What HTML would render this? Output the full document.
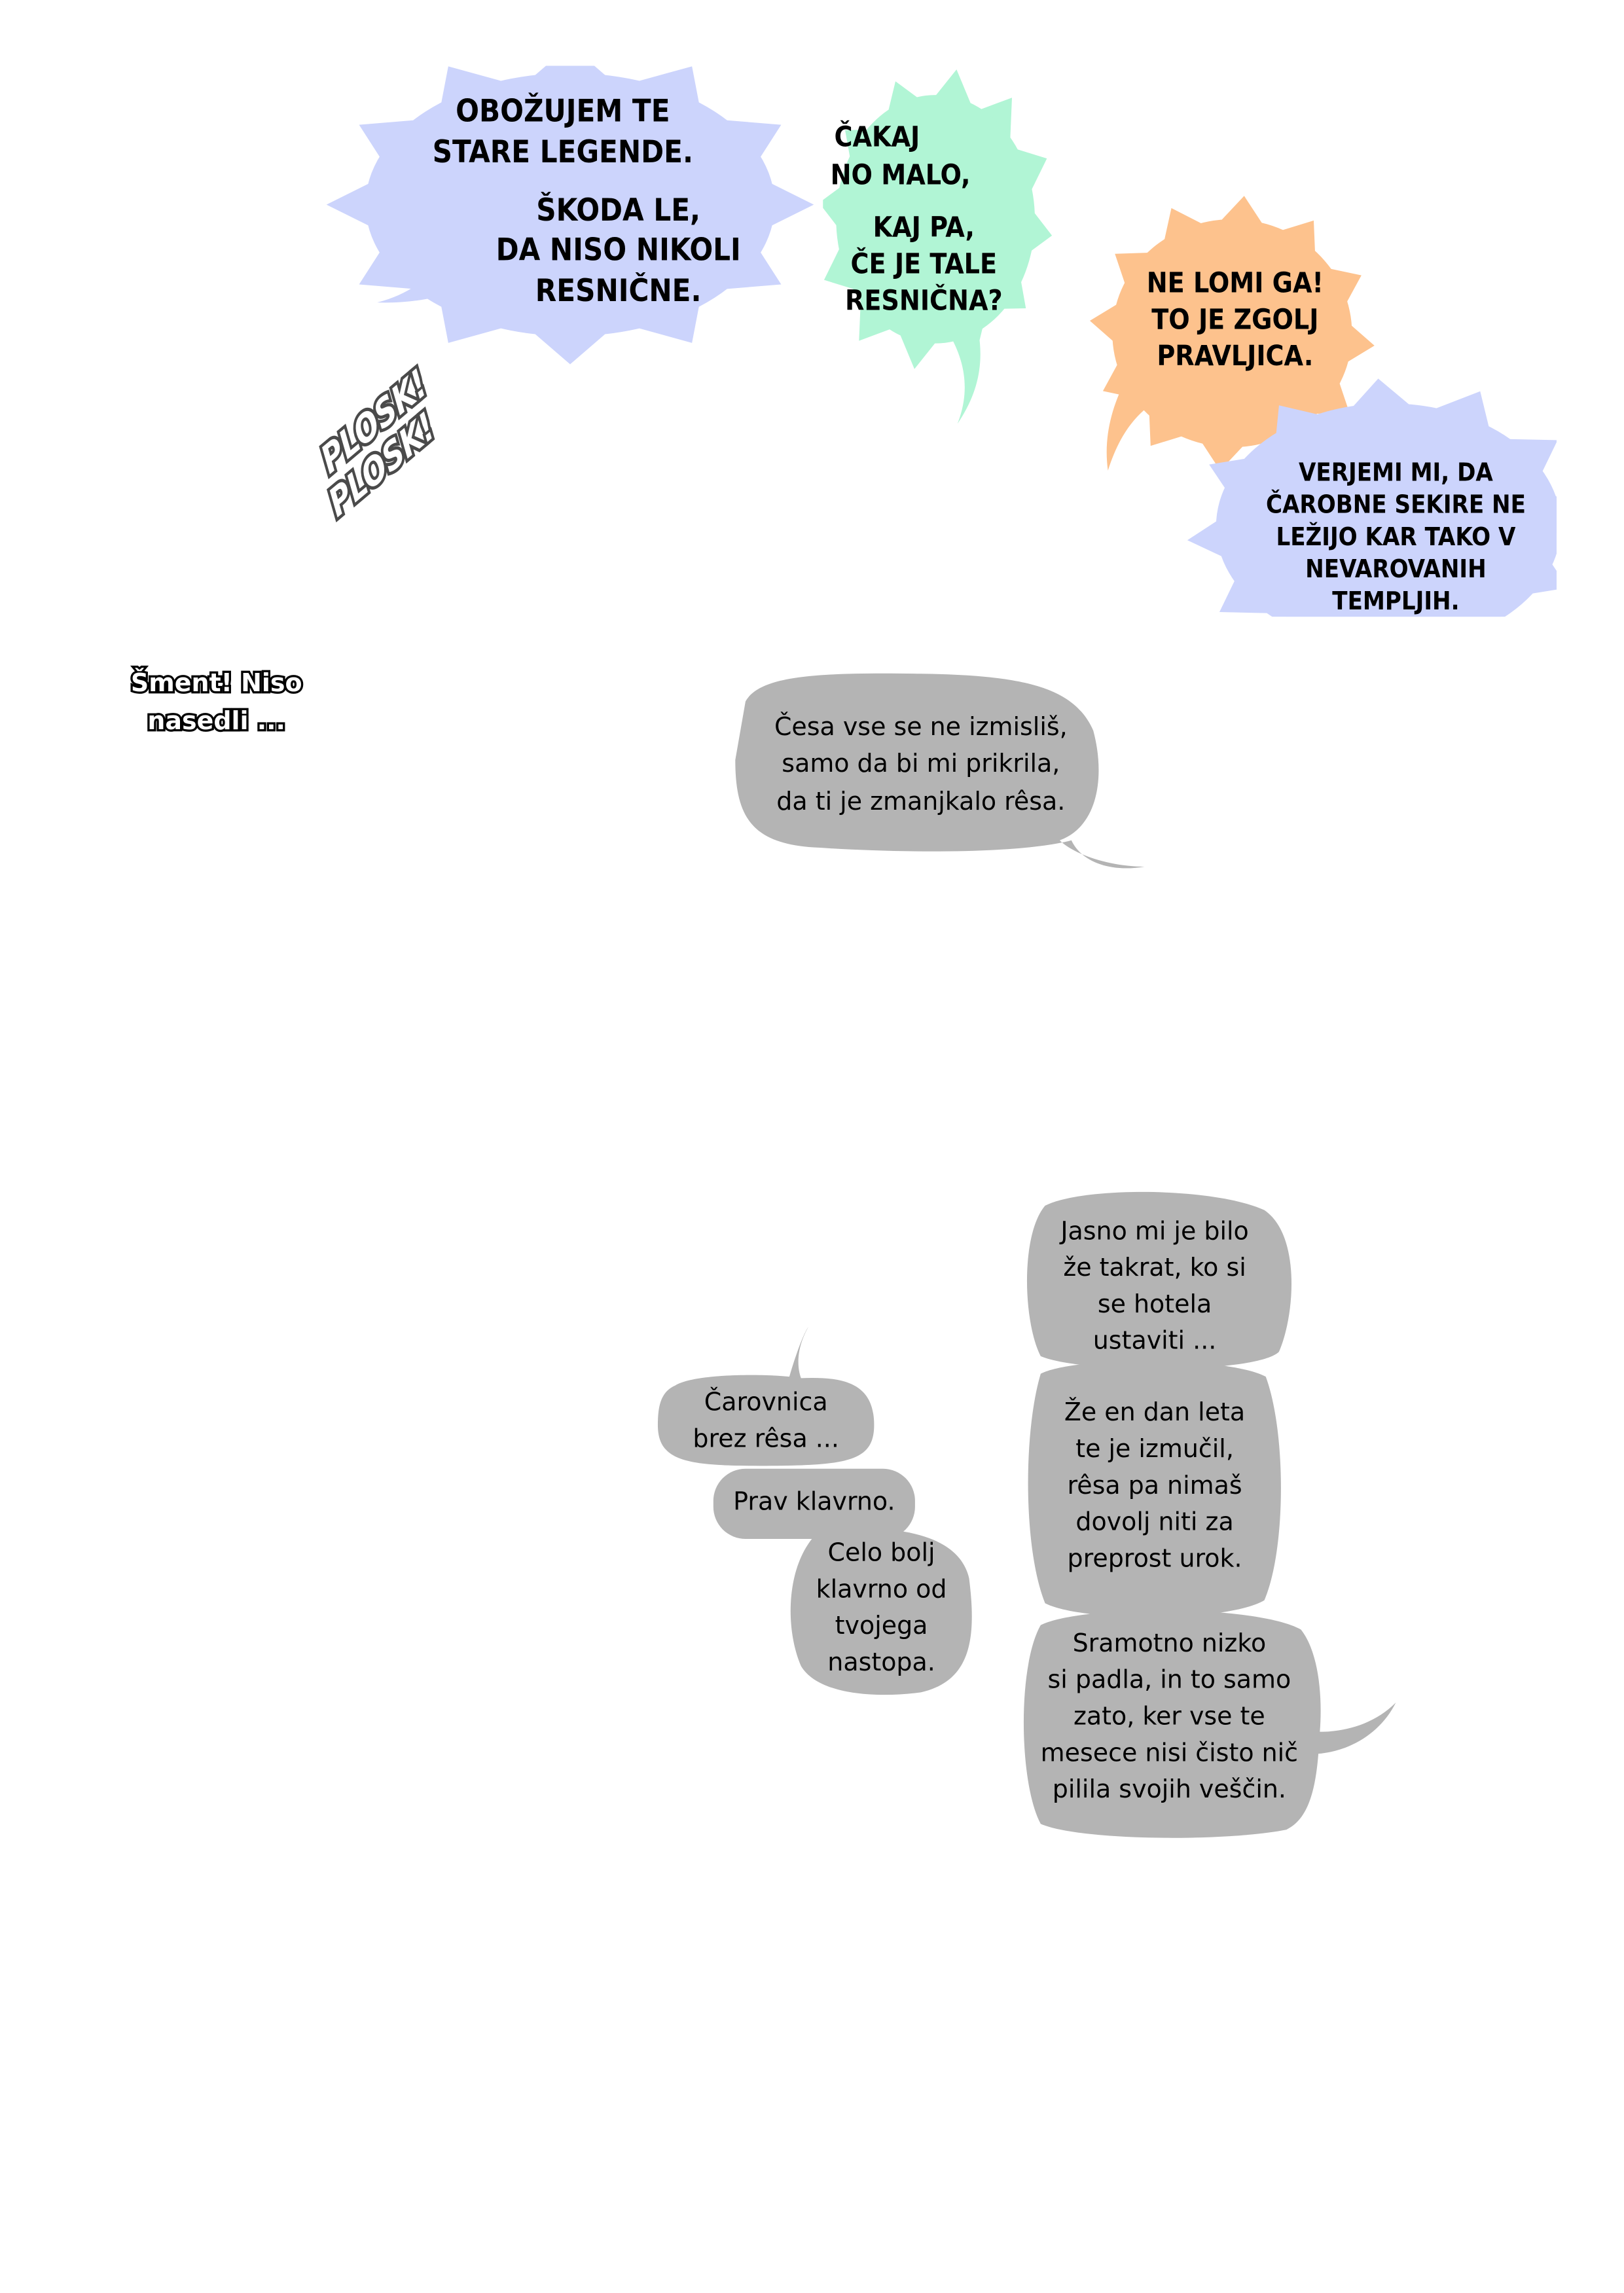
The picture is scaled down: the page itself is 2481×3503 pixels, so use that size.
<!DOCTYPE html>
<html><head><meta charset="utf-8"><style>
html,body{margin:0;padding:0;background:#fff}
svg{display:block}
.cap{font-family:"DejaVu Sans Condensed","DejaVu Sans",sans-serif;font-weight:bold;fill:#000;text-anchor:middle}
.hw{font-family:"DejaVu Sans","Liberation Sans",sans-serif;fill:#000;text-anchor:middle;font-size:17px}
</style></head><body>
<svg width="2481" height="3503" viewBox="0 0 1111 1569" xmlns="http://www.w3.org/2000/svg">
<defs>
<clipPath id="c1"><rect x="0" y="45" width="1100" height="400"/></clipPath>
<clipPath id="c2"><rect x="563" y="0" width="300" height="400"/></clipPath>
<clipPath id="c3"><rect x="0" y="0" width="1065" height="422"/></clipPath>
<path id="st" d="M1.15,0 L.85,.228 L.996,.575 L.622,.622 L.575,.996 L.228,.85 L0,1.15 L-.228,.85 L-.575,.996 L-.622,.622 L-.996,.575 L-.85,.228 L-1.15,0 L-.85,-.228 L-.996,-.575 L-.622,-.622 L-.575,-.996 L-.228,-.85 L0,-1.15 L.228,-.85 L.575,-.996 L.622,-.622 L.996,-.575 L.85,-.228 Z"/>
</defs>
<g clip-path="url(#c1)" fill="#ccd4fc"><g transform="translate(390,140)"><use href="#st" transform="scale(145,95)"/><ellipse rx="140" ry="90"/></g></g>
<g clip-path="url(#c2)" fill="#b1f5d5"><g transform="translate(640,150)"><use href="#st" transform="rotate(8) scale(70,90)"/><ellipse rx="68" ry="85"/></g></g>
<g fill="#fdc28d"><g transform="translate(843,228)"><use href="#st" transform="rotate(5) scale(85,82)"/><ellipse rx="82" ry="78"/></g></g>
<g clip-path="url(#c3)" fill="#ccd4fc"><g transform="translate(950,360)"><use href="#st" transform="rotate(-4) scale(120,88)"/><ellipse rx="118" ry="84"/></g></g>
<!-- tails -->
<path d="M640,215 C660,240 665,265 655,290 C672,265 675,240 665,210 Z" fill="#b1f5d5" clip-path="url(#c2)"/>
<path d="M310,165 C300,185 285,200 258,207 C290,208 315,200 330,190 Z" fill="#ccd4fc"/>
<path d="M770,260 C760,280 755,300 758,322 C765,300 775,285 790,275 Z" fill="#fdc28d"/>
<!-- gray bubbles -->
<g fill="#b4b4b4">
<path d="M510,480 C520,462 560,460 630,461 C700,462 735,470 748,500 C756,530 752,565 725,575 C735,585 760,593 783,593 C760,597 740,590 733,575 C700,584 620,584 560,580 C515,578 503,560 503,520 Z"/>
<path d="M462,948 C475,940 520,940 540,942 C545,925 550,912 553,908 C545,922 545,935 548,943 C575,942 598,945 598,975 C598,1000 580,1003 520,1003 C470,1003 450,1000 450,975 C450,960 453,952 462,948 Z"/>
<rect x="488" y="1005" width="138" height="48" rx="22"/>
<path d="M560,1048 C600,1043 655,1045 663,1080 C668,1120 665,1150 630,1158 C600,1162 560,1160 548,1140 C537,1115 537,1070 560,1048 Z"/>
<path d="M715,825 C740,812 830,812 865,828 C890,845 886,900 875,925 C860,940 740,940 712,928 C700,905 698,845 715,825 Z"/>
<path d="M712,940 C735,928 840,928 866,942 C880,980 880,1060 865,1095 C840,1110 740,1110 715,1097 C700,1060 700,980 712,940 Z"/>
<path d="M712,1112 C740,1098 860,1098 890,1115 C902,1130 905,1160 903,1185 C920,1185 940,1180 955,1165 C945,1185 925,1198 902,1200 C900,1225 895,1245 880,1252 C840,1260 740,1260 712,1248 C697,1220 696,1140 712,1112 Z"/>
</g>
<!-- caps text -->
<g class="cap" font-size="21">
<text x="385" y="83">OBOŽUJEM TE</text>
<text x="385" y="111">STARE LEGENDE.</text>
<text x="423" y="151">ŠKODA LE,</text>
<text x="423" y="178">DA NISO NIKOLI</text>
<text x="423" y="206">RESNIČNE.</text>
</g>
<g class="cap" font-size="19">
<text x="600" y="100">ČAKAJ</text>
<text x="616" y="126">NO MALO,</text>
<text x="632" y="162">KAJ PA,</text>
<text x="632" y="187">ČE JE TALE</text>
<text x="632" y="212">RESNIČNA?</text>
<text x="845" y="200">NE LOMI GA!</text>
<text x="845" y="225">TO JE ZGOLJ</text>
<text x="845" y="250">PRAVLJICA.</text>
</g>
<g class="cap" font-size="17">
<text x="955" y="329">VERJEMI MI, DA</text>
<text x="955" y="351">ČAROBNE SEKIRE NE</text>
<text x="955" y="373">LEŽIJO KAR TAKO V</text>
<text x="955" y="395">NEVAROVANIH</text>
<text x="955" y="417">TEMPLJIH.</text>
</g>
<!-- PLOSK -->
<g transform="translate(255,305) rotate(-40) skewX(-15)" font-family="DejaVu Sans Condensed,sans-serif" font-weight="bold" font-style="italic" font-size="24" text-anchor="middle" fill="#fff" stroke="#4a4a4a" stroke-width="4" paint-order="stroke">
<text x="8" y="-4">PLOSK!</text>
<text x="0" y="22">PLOSK!</text>
</g>
<g font-family="DejaVu Sans,sans-serif" font-weight="bold" font-size="17" text-anchor="middle" fill="#fff" stroke="#000" stroke-width="3" paint-order="stroke">
<text x="148" y="473">Šment! Niso</text>
<text x="148" y="499">nasedli ...</text>
</g>
<g class="hw">
<text x="630" y="503">Česa vse se ne izmisliš,</text>
<text x="630" y="528">samo da bi mi prikrila,</text>
<text x="630" y="554">da ti je zmanjkalo rêsa.</text>
<text x="524" y="965">Čarovnica</text>
<text x="524" y="990">brez rêsa ...</text>
<text x="557" y="1033">Prav klavrno.</text>
<text x="603" y="1068">Celo bolj</text>
<text x="603" y="1093">klavrno od</text>
<text x="603" y="1118">tvojega</text>
<text x="603" y="1143">nastopa.</text>
<text x="790" y="848">Jasno mi je bilo</text>
<text x="790" y="873">že takrat, ko si</text>
<text x="790" y="898">se hotela</text>
<text x="790" y="923">ustaviti ...</text>
<text x="790" y="972">Že en dan leta</text>
<text x="790" y="997">te je izmučil,</text>
<text x="790" y="1022">rêsa pa nimaš</text>
<text x="790" y="1047">dovolj niti za</text>
<text x="790" y="1072">preprost urok.</text>
<text x="800" y="1130">Sramotno nizko</text>
<text x="800" y="1155">si padla, in to samo</text>
<text x="800" y="1180">zato, ker vse te</text>
<text x="800" y="1205">mesece nisi čisto nič</text>
<text x="800" y="1230">pilila svojih veščin.</text>
</g>
</svg>
</body></html>
